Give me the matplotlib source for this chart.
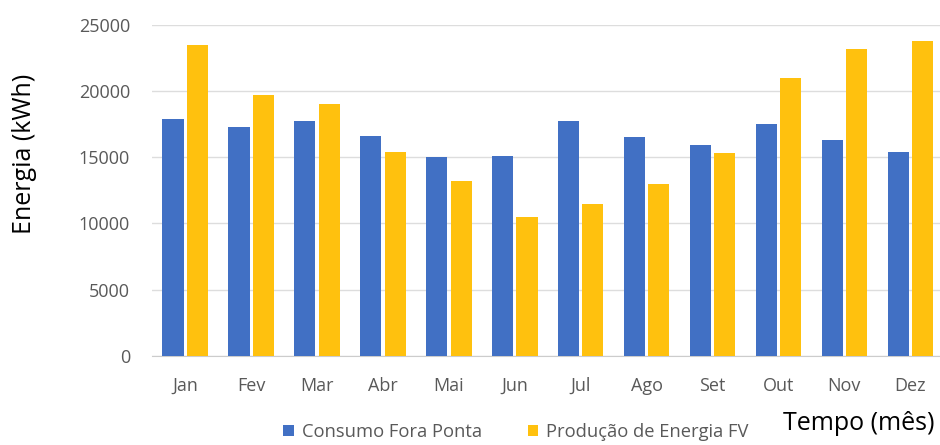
import numpy as np
import matplotlib.pyplot as plt

# monthly data (kWh)
meses = ['Jan', 'Fev', 'Mar', 'Abr', 'Mai', 'Jun',
         'Jul', 'Ago', 'Set', 'Out', 'Nov', 'Dez']
consumo = [17900, 17300, 17700, 16600, 15000, 15100,
           17700, 16500, 15900, 17500, 16300, 15400]
producao = [23500, 19700, 19000, 15400, 13200, 10500,
            11500, 13000, 15300, 21000, 23200, 23800]

c_blue = '#4170C4'
c_yell = '#FFC10E'
c_tick = '#595959'

plt.rcParams['font.family'] = ['Open Sans', 'DejaVu Sans']

fig = plt.figure(figsize=(9.4, 4.45), dpi=100)
ax = fig.add_axes([0.162, 0.2, 0.838, 0.7445])

x = np.arange(len(meses))
w = 0.32
ax.bar(x - 0.185, consumo, w, color=c_blue, label='Consumo Fora Ponta', zorder=3)
ax.bar(x + 0.185, producao, w, color=c_yell, label='Produção de Energia FV', zorder=3)

ax.set_xlim(-0.5, 11.45)
ax.set_ylim(0, 25000)
ax.set_yticks(np.arange(0, 25001, 5000))
ax.set_xticks(x)
ax.set_xticklabels(meses)
ax.grid(axis='y', color='#DDDDDD', linewidth=1.0, zorder=0)
for s in ['top', 'right', 'left']:
    ax.spines[s].set_visible(False)
ax.spines['bottom'].set_color('#CCCCCC')
ax.tick_params(axis='both', length=0, labelsize=13, colors=c_tick)
ax.tick_params(axis='y', pad=16)
ax.tick_params(axis='x', pad=15)

fig.text(25 / 940, 1 - 154 / 445, 'Energia (kWh)', rotation=90, fontsize=18,
         ha='center', va='center', color='black')
fig.text(859 / 940, 1 - 424 / 445, 'Tempo (mês)', fontsize=18, ha='center', va='center',
         color='black')

leg = fig.legend(loc='center', bbox_to_anchor=(0.549, 0.03), ncol=2, frameon=False,
                 fontsize=13.2, handlelength=0.55, handleheight=0.55, handletextpad=0.45,
                 columnspacing=2.5, borderpad=0, borderaxespad=0)
for t in leg.get_texts():
    t.set_color(c_tick)

plt.savefig('out.png', dpi=100)
plt.close()
